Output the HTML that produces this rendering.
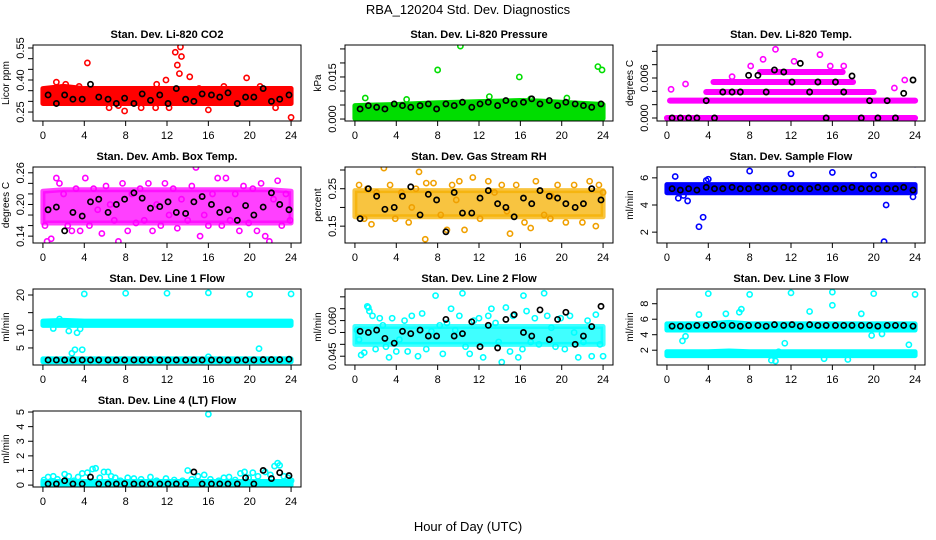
<!DOCTYPE html>
<html><head><meta charset="utf-8">
<style>
html,body{margin:0;padding:0;background:#fff;}
svg{display:block;font-family:"Liberation Sans",Arial,sans-serif;}
</style></head>
<body>
<svg id="chart" width="936" height="540" viewBox="0 0 936 540">
<text x="468" y="14" text-anchor="middle" font-size="13">RBA_120204  Std. Dev. Diagnostics</text>
<text x="468" y="531" text-anchor="middle" font-size="13">Hour of Day (UTC)</text>
</svg>
<script>
// shared x data
const xTicks = [0,4,8,12,16,20,24];
const blackHours = [0.5,1.3,2.1,2.9,3.8,4.6,5.4,6.3,7.1,7.9,8.8,9.6,10.4,11.3,12.1,12.9,13.8,14.6,15.4,16.3,17.1,17.9,18.8,19.6,20.4,21.3,22.1,22.9,23.8];
const bandHours = [0,2,4,6,8,10,12,14,16,18,20,22,24];

// CO2
const co2Lo = [0.29,0.29,0.29,0.29,0.29,0.29,0.29,0.29,0.29,0.29,0.29,0.29,0.29];
const co2Hi = [0.36,0.37,0.36,0.36,0.36,0.36,0.36,0.36,0.36,0.36,0.36,0.36,0.36];
const co2Pts = [[4.3,0.48],[1.3,0.39],[12.8,0.53],[13.3,0.555],[13.4,0.51],[13.0,0.47],[13.2,0.43],[14.2,0.415],[19.7,0.41],[24,0.225],[7.9,0.255],[16,0.26],[6.4,0.27],[10.9,0.27],[12.2,0.27],[11.9,0.4],[11.0,0.38],[15.1,0.36],[2.2,0.38],[7.3,0.28],[3.5,0.37],[9.5,0.27],[17.5,0.37],[21,0.37],[22.5,0.27]];
const co2Black = [0.33,0.29,0.33,0.31,0.31,0.38,0.32,0.31,0.29,0.315,0.29,0.335,0.305,0.33,0.29,0.36,0.31,0.30,0.335,0.33,0.32,0.34,0.29,0.32,0.32,0.36,0.30,0.31,0.33];
// Pressure
const presLo = [0.0002,0.0002,0.0002,0.0002,0.0002,0.0002,0.0002,0.0002,0.0002,0.0002,0.0002,0.0002,0.0002];
const presHi = [0.0048,0.005,0.0052,0.0055,0.0058,0.006,0.0062,0.0064,0.0066,0.0064,0.006,0.0056,0.0052];
const presPts = [[10.2,0.026],[8.0,0.0175],[15.9,0.015],[23.5,0.0187],[23.9,0.0175],[1,0.0075],[13,0.008],[17,0.0072],[5,0.007],[20.5,0.0075]];
const presBlack = [0.0036,0.0048,0.0042,0.0036,0.0054,0.0048,0.0042,0.0048,0.0054,0.0036,0.0054,0.0048,0.006,0.0042,0.0054,0.006,0.0048,0.0066,0.0054,0.006,0.0072,0.0054,0.0066,0.0048,0.006,0.0054,0.0048,0.0042,0.0054];
// Li-820 temp level rows
const tempLevels = [0.0,0.0026,0.0039,0.0054,0.0069];
const tempStart = [0,0.3,3.8,4.5,9];
const tempEnd = [24,24,20,18,17];
const tempPts = [[10.5,0.0103],[14.8,0.0095],[9.3,0.0088],[8.1,0.0078],[12.3,0.0085],[15.8,0.0078],[1.8,0.0051],[23,0.0057],[0.4,0.0043],[22,0.0045],[6.3,0.0062],[17.1,0.0078]];
const tempBlack = [0,0,0,0,0.0026,0,0.0039,0.0039,0.0039,0.0064,0.0064,0.0039,0.0072,0.0069,0.0054,0.0082,0.0039,0.0054,0,0.0054,0.0039,0.0063,0,0.0026,0,0.0026,0,0.0037,0.0057];
// Amb box temp
const ambLo = [0.165,0.165,0.165,0.165,0.165,0.165,0.165,0.165,0.165,0.165,0.165,0.165,0.165];
const ambHi = [0.225,0.228,0.228,0.228,0.228,0.228,0.228,0.228,0.228,0.228,0.228,0.228,0.225];
const ambPts = [[0.2,0.16],[0.4,0.13],[0.8,0.135],[1.3,0.25],[1.6,0.24],[2,0.22],[2.4,0.16],[2.8,0.15],[3.2,0.23],[3.6,0.15],[4.1,0.25],[4.5,0.16],[4.9,0.23],[5.3,0.19],[5.7,0.145],[6.1,0.235],[6.5,0.2],[6.9,0.17],[7.3,0.13],[7.7,0.24],[8.2,0.15],[8.6,0.22],[9,0.165],[9.4,0.23],[9.8,0.17],[10.2,0.24],[10.6,0.15],[11,0.2],[11.4,0.16],[11.8,0.24],[12.2,0.18],[12.6,0.23],[13,0.155],[13.4,0.21],[14,0.17],[14.4,0.235],[14.8,0.27],[15.2,0.14],[15.6,0.18],[16,0.16],[16.4,0.22],[16.9,0.25],[17.3,0.16],[17.7,0.25],[18.1,0.17],[18.6,0.22],[19,0.15],[19.4,0.235],[19.9,0.165],[20.3,0.23],[20.7,0.15],[21.1,0.24],[21.5,0.14],[21.9,0.13],[22.3,0.21],[22.7,0.245],[23.1,0.16],[23.5,0.22],[23.9,0.17]];
const ambBlack = [0.19,0.195,0.15,0.185,0.178,0.205,0.21,0.185,0.2,0.21,0.222,0.212,0.193,0.196,0.205,0.185,0.183,0.205,0.215,0.2,0.185,0.19,0.17,0.198,0.18,0.195,0.222,0.2,0.19];
// Gas RH
const rhLo = [0.175,0.175,0.175,0.175,0.175,0.175,0.175,0.175,0.175,0.175,0.175,0.175,0.175];
const rhHi = [0.245,0.245,0.245,0.245,0.245,0.245,0.245,0.245,0.245,0.245,0.245,0.245,0.245];
const rhPts = [[0.4,0.26],[0.9,0.17],[1.6,0.155],[2.1,0.24],[2.8,0.305],[3.4,0.26],[3.9,0.17],[4.5,0.24],[5.2,0.16],[5.9,0.25],[6.2,0.295],[6.8,0.115],[6.9,0.265],[7.6,0.265],[8.3,0.18],[8.9,0.14],[9.4,0.26],[10.1,0.27],[10.6,0.14],[11.4,0.28],[12.1,0.17],[12.9,0.27],[13.5,0.24],[14.2,0.26],[15.0,0.13],[15.6,0.26],[16.4,0.16],[17.0,0.145],[17.5,0.27],[18.3,0.18],[18.9,0.17],[19.6,0.26],[20.4,0.16],[21.2,0.26],[22.0,0.16],[22.7,0.27],[23.3,0.15],[23.6,0.26],[24,0.24],[1.2,0.25],[5.5,0.2],[9.8,0.22],[14.7,0.19],[19,0.23]];
const rhBlack = [0.17,0.25,0.23,0.195,0.2,0.23,0.255,0.18,0.235,0.22,0.135,0.24,0.185,0.185,0.225,0.245,0.21,0.2,0.175,0.225,0.21,0.245,0.23,0.225,0.21,0.2,0.21,0.25,0.22];
// Sample flow
const sfLo = [4.9,4.9,4.9,4.9,4.9,4.9,4.9,4.9,4.9,4.9,4.9,4.9,4.9];
const sfHi = [5.5,5.5,5.5,5.5,5.5,5.5,5.5,5.5,5.5,5.5,5.5,5.5,5.5];
const sfPts = [[21,1.3],[3.1,2.4],[3.5,3.1],[0.8,6.1],[1.1,4.5],[8,6.5],[16,6.4],[24,7],[21.2,4],[23.8,4.6],[4,5.9],[2,4.3],[1.6,4.7],[3.8,5.8],[12,6.3],[20,6.2]];
const sfBlack = [5.2,5.1,5.2,5.1,5.3,5.2,5.2,5.3,5.2,5.2,5.3,5.2,5.2,5.3,5.2,5.2,5.2,5.3,5.2,5.2,5.2,5.3,5.2,5.2,5.2,5.2,5.2,5.3,5.1];
// Line 1
const l1Lo = [11.4,11.4,11.4,11.4,11.4,11.4,11.4,11.4,11.4,11.4,11.4,11.4,11.4];
const l1Hi = [12.6,12.8,12.6,12.6,12.6,12.6,12.6,12.6,12.6,12.6,12.6,12.6,12.6];
const l1Lo2 = [1.1,1.1,1.1,1.1,1.1,1.1,1.1,1.1,1.1,1.1,1.1,1.1,1.1];
const l1Hi2 = [1.9,1.9,1.9,1.9,1.9,1.9,1.9,1.9,1.9,1.9,1.9,1.9,1.9];
const l1Pts = [[4,20.3],[8,20.5],[12,20.5],[16,20.6],[20,20.2],[24,20.3],[2.8,3.5],[3.1,4.5],[3.8,4.5],[20.9,4.8],[2.5,9.8],[3.3,9.3],[1.0,10.5],[3.6,10.4],[1.6,13.2],[16,2.5]];
const l1Black = [1.6,1.6,1.6,1.6,1.6,1.6,1.6,1.6,1.6,1.6,1.6,1.6,1.6,1.6,1.6,1.6,1.6,1.6,1.6,1.6,1.6,1.6,1.6,1.6,1.6,1.7,1.7,1.7,1.8];
// Line 2
const l2Lo = [0.050,0.050,0.050,0.050,0.050,0.050,0.050,0.050,0.050,0.050,0.050,0.050,0.050];
const l2Hi = [0.0575,0.0575,0.0575,0.0575,0.0575,0.0575,0.0575,0.0575,0.0575,0.0575,0.0575,0.0575,0.0575];
const l2Pts = [[0.2,0.056],[0.4,0.052],[0.6,0.0455],[0.9,0.0465],[1.2,0.066],[1.4,0.064],[1.7,0.062],[2.0,0.048],[2.4,0.061],[2.7,0.058],[3.0,0.049],[3.3,0.0445],[3.6,0.061],[4.0,0.047],[4.3,0.052],[4.8,0.060],[5.1,0.047],[5.5,0.062],[6.1,0.045],[6.5,0.063],[6.9,0.048],[7.4,0.0555],[7.8,0.0705],[8.2,0.058],[8.5,0.046],[8.9,0.059],[9.3,0.065],[9.7,0.056],[10.1,0.062],[10.4,0.0715],[10.7,0.049],[11.1,0.046],[11.5,0.060],[12.0,0.061],[12.4,0.0445],[12.9,0.062],[13.2,0.065],[13.6,0.059],[13.9,0.051],[14.2,0.0425],[14.6,0.0655],[15.0,0.047],[15.3,0.062],[15.8,0.0445],[16.2,0.048],[16.6,0.064],[17.0,0.051],[17.4,0.061],[17.8,0.050],[18.3,0.0715],[18.6,0.062],[19.0,0.057],[19.4,0.049],[19.9,0.061],[20.3,0.048],[20.8,0.062],[21.2,0.055],[21.6,0.0445],[22.1,0.051],[22.5,0.060],[22.9,0.045],[23.3,0.0625],[23.7,0.050],[24.0,0.045],[16.3,0.0705],[1.3,0.0655]];
const l2Black = [0.0555,0.055,0.056,0.0525,0.0505,0.0555,0.0545,0.056,0.0535,0.0535,0.0605,0.0535,0.0545,0.0595,0.049,0.058,0.0485,0.0605,0.0625,0.055,0.0535,0.0645,0.052,0.0605,0.0635,0.05,0.0535,0.0575,0.066];
// Line 3
const l3Lo = [4.6,4.6,4.6,4.6,4.6,4.6,4.6,4.6,4.6,4.6,4.6,4.6,4.6];
const l3Hi = [5.4,5.4,5.4,5.6,5.4,5.4,5.4,5.4,5.4,5.4,5.4,5.4,5.4];
const l3Lo2 = [1.3,1.3,1.3,1.3,1.3,1.3,1.3,1.3,1.3,1.3,1.3,1.3,1.3];
const l3Hi2 = [1.8,1.8,1.8,1.9,1.8,1.8,1.8,1.8,1.8,1.8,1.8,1.8,1.8];
const l3Pts = [[4,9.3],[8,9.2],[12,9.4],[16,9.5],[20,9.3],[24,9.2],[16,7.8],[13.8,7],[18.8,6.7],[5.7,6.7],[7.2,7.3],[7.0,6.9],[1.5,3.2],[1.8,3.8],[11.4,2.9],[10.1,0.7],[10.8,1.8],[15.2,0.9],[23.4,2.7],[3.1,6.6],[19.8,3.9],[20.8,4.1],[10.5,0.6],[17.5,0.8]];
const l3Black = [5.1,5.1,5.1,5.2,5.2,5.3,5.2,5.2,5.1,5.2,5.2,5.1,5.3,5.2,5.3,5.1,5.3,5.2,5.2,5.2,5.2,5.2,5.2,5.2,5.1,5.2,5.2,5.2,5.1];
// Line 4
const l4Lo = [0,0,0,0,0,0,0,0,0,0,0,0,0];
const l4Hi = [0.25,0.25,0.25,0.25,0.25,0.25,0.25,0.25,0.25,0.25,0.25,0.25,0.25];
const l4Pts = [[0.1,0.35],[0.5,0.55],[1,0.6],[1.4,0.4],[2.1,0.75],[2.5,0.6],[3,0.3],[3.4,0.55],[3.8,0.8],[4.3,0.85],[4.8,1.1],[5.1,1.15],[5.5,0.5],[5.9,0.9],[6.3,0.9],[6.6,0.6],[7,0.5],[7.5,0.3],[8.2,0.5],[8.8,0.45],[9.5,0.4],[10.4,0.55],[11,0.3],[11.9,0.45],[12.7,0.35],[13.5,0.3],[14,1.0],[14.4,0.4],[15,0.6],[15.6,0.7],[16,4.85],[16.2,0.4],[17,0.3],[17.5,0.5],[18,0.55],[18.6,0.35],[19.1,0.8],[19.5,0.9],[19.9,0.5],[20.3,0.85],[20.8,0.6],[21.5,0.9],[22,0.7],[22.4,1.3],[22.7,1.5],[22.9,1.35],[23.3,0.6],[23.7,0.5],[24,0.3]];
const l4Black = [0.08,0.08,0.3,0.08,0.08,0.55,0.08,0.08,0.08,0.1,0.08,0.08,0.08,0.08,0.08,0.08,0.08,0.9,0.08,0.08,0.08,0.08,0.08,0.5,0.08,1.0,0.45,0.85,0.65];

const panels = [
 {name:'co2',title:'Stan. Dev. Li-820 CO2',ylab:'Licor ppm',r:0,c:0,dom:[0.208,0.564],ticks:[0.25,0.30,0.35,0.40,0.45,0.50,0.55],labels:[0.25,0.40,0.55],dec:2,col:'#ff0000',bands:[[co2Lo,co2Hi]],pts:co2Pts,black:co2Black},
 {name:'pressure',title:'Stan. Dev. Li-820 Pressure',ylab:'kPa',r:0,c:1,dom:[-0.0007,0.0264],ticks:[0,0.005,0.010,0.015,0.020,0.025],labels:[0,0.015],dec:3,col:'#00dd00',bands:[[presLo,presHi]],pts:presPts,black:presBlack},
 {name:'li820-temp',title:'Stan. Dev. Li-820 Temp.',ylab:'degrees C',r:0,c:2,dom:[-0.00045,0.01095],ticks:[0,0.002,0.004,0.006,0.008,0.010],labels:[0,0.006],dec:3,col:'#ff00ff',bands:[],rows:true,pts:tempPts,black:tempBlack},
 {name:'amb-box-temp',title:'Stan. Dev. Amb. Box Temp.',ylab:'degrees C',r:1,c:0,dom:[0.127,0.271],ticks:[0.14,0.16,0.18,0.20,0.22,0.24,0.26],labels:[0.14,0.20,0.26],dec:2,col:'#ff00ff',bands:[[ambLo,ambHi]],op:0.75,pts:ambPts,black:ambBlack},
 {name:'gas-stream-rh',title:'Stan. Dev. Gas Stream RH',ylab:'percent',r:1,c:1,dom:[0.105,0.308],ticks:[0.15,0.20,0.25,0.30],labels:[0.15,0.25],dec:2,col:'#f0a000',fill:'#f5b000',bands:[[rhLo,rhHi]],op:0.75,pts:rhPts,black:rhBlack},
 {name:'sample-flow',title:'Stan. Dev. Sample Flow',ylab:'ml/min',r:1,c:2,dom:[1.2,6.8],ticks:[2,4,6],labels:[2,4,6],dec:0,col:'#0000ff',bands:[[sfLo,sfHi]],pts:sfPts,black:sfBlack},
 {name:'line1-flow',title:'Stan. Dev. Line 1 Flow',ylab:'ml/min',r:2,c:0,dom:[0.17,21.7],ticks:[5,10,15,20],labels:[5,10,20],dec:0,col:'#00ffff',bands:[[l1Lo,l1Hi],[l1Lo2,l1Hi2]],pts:l1Pts,black:l1Black},
 {name:'line2-flow',title:'Stan. Dev. Line 2 Flow',ylab:'ml/min',r:2,c:1,dom:[0.0413,0.0733],ticks:[0.045,0.050,0.055,0.060,0.065,0.070],labels:[0.045,0.060],dec:3,col:'#00ffff',bands:[[l2Lo,l2Hi]],op:0.75,pts:l2Pts,black:l2Black},
 {name:'line3-flow',title:'Stan. Dev. Line 3 Flow',ylab:'ml/min',r:2,c:2,dom:[0.09,9.9],ticks:[2,4,6,8],labels:[2,4,6,8],dec:0,col:'#00ffff',bands:[[l3Lo,l3Hi],[l3Lo2,l3Hi2]],pts:l3Pts,black:l3Black},
 {name:'line4-flow',title:'Stan. Dev. Line 4 (LT) Flow',ylab:'ml/min',r:3,c:0,dom:[-0.13,5.07],ticks:[0,1,2,3,4,5],labels:[0,1,2,3,4,5],dec:0,col:'#00ffff',bands:[[l4Lo,l4Hi]],pts:l4Pts,black:l4Black}
];

const svg = document.getElementById('chart');
const NS = 'http://www.w3.org/2000/svg';
function mk(tag, attrs, parent){ const e=document.createElementNS(NS,tag); for(const k in attrs) e.setAttribute(k,attrs[k]); (parent||svg).appendChild(e); return e; }
const LEFTS=[33,345,657], TOPS=[45,167,289,411], PW=268, PH=76;

panels.forEach(p=>{
  const L=LEFTS[p.c], T=TOPS[p.r], B=T+PH, R=L+PW;
  const xs = v => L + (v+0.96)/25.92*PW;
  const ys = v => B - (v-p.dom[0])/(p.dom[1]-p.dom[0])*PH;
  const g = mk('g',{});
  
  
  const cid='clip-'+p.name;
  const cp = mk('clipPath',{id:cid},g); mk('rect',{x:L,y:T,width:PW,height:PH},cp);
  const plot = mk('g',{'clip-path':'url(#'+cid+')'},g);
  const fill = p.fill||p.col;
  p.bands.forEach(b=>{
    const lo=b[0], hi=b[1];
    let pts=bandHours.map((h,i)=>xs(h)+','+ys(hi[i]));
    pts=pts.concat(bandHours.map((h,i)=>xs(h)+','+ys(lo[i])).reverse());
    const poly=mk('polygon',{points:pts.join(' '),fill:fill,'fill-opacity':p.op||1,stroke:fill,'stroke-width':5,'stroke-linejoin':'round','stroke-opacity':p.op||1},plot);
    
    
  });
  if(p.rows){
    tempLevels.forEach((lv,i)=>{
      const ln=mk('line',{x1:xs(tempStart[i]),x2:xs(tempEnd[i]),y1:ys(lv),y2:ys(lv),stroke:p.col,'stroke-width':6,'stroke-linecap':'round'},plot);
      
      
    });
  }
  p.pts.forEach(pt=>{
    const c=mk('circle',{cx:xs(pt[0]),cy:ys(pt[1]),r:2.6,fill:'none',stroke:p.col,'stroke-width':1.6},plot);
    
    
  });
  p.black.forEach((v,i)=>{
    const c=mk('circle',{cx:xs(blackHours[i]),cy:ys(v),r:2.6,fill:'none',stroke:'#000','stroke-width':1.7},plot);
    
    
  });
  const box=mk('rect',{x:L,y:T,width:PW,height:PH,fill:'none',stroke:'#000','stroke-width':1},g);
  
  
  const t=mk('text',{x:(L+R)/2,y:T-7,'text-anchor':'middle','font-size':11,'font-weight':'bold'},g);
  t.textContent=p.title;
  
  
  // x axis
  mk('line',{x1:xs(0),x2:xs(24),y1:B,y2:B,stroke:'#000'},g);
  xTicks.forEach(v=>{
    mk('line',{x1:xs(v),x2:xs(v),y1:B,y2:B+5,stroke:'#000'},g);
    const tl=mk('text',{x:xs(v),y:B+18,'text-anchor':'middle','font-size':11},g);
    tl.textContent=v;
    
    
  });
  // y axis
  mk('line',{x1:L,x2:L,y1:ys(p.ticks[0]),y2:ys(p.ticks[p.ticks.length-1]),stroke:'#000'},g);
  p.ticks.forEach(v=>{ if(v<=p.dom[1]) mk('line',{x1:L-5,x2:L,y1:ys(v),y2:ys(v),stroke:'#000'},g); });
  p.labels.forEach(v=>{
    const yy=ys(v), xx=L-9;
    const tl=mk('text',{x:xx,y:yy,'text-anchor':'middle','font-size':11,transform:'rotate(-90 '+xx+' '+yy+')'},g);
    tl.textContent=v.toFixed(p.dec);
    
    
  });
  const yl=mk('text',{x:L-24,y:(T+B)/2,'text-anchor':'middle','font-size':10,transform:'rotate(-90 '+(L-24)+' '+((T+B)/2)+')'},g);
  yl.textContent=p.ylab;
  
  
});
</script>
</body></html>
